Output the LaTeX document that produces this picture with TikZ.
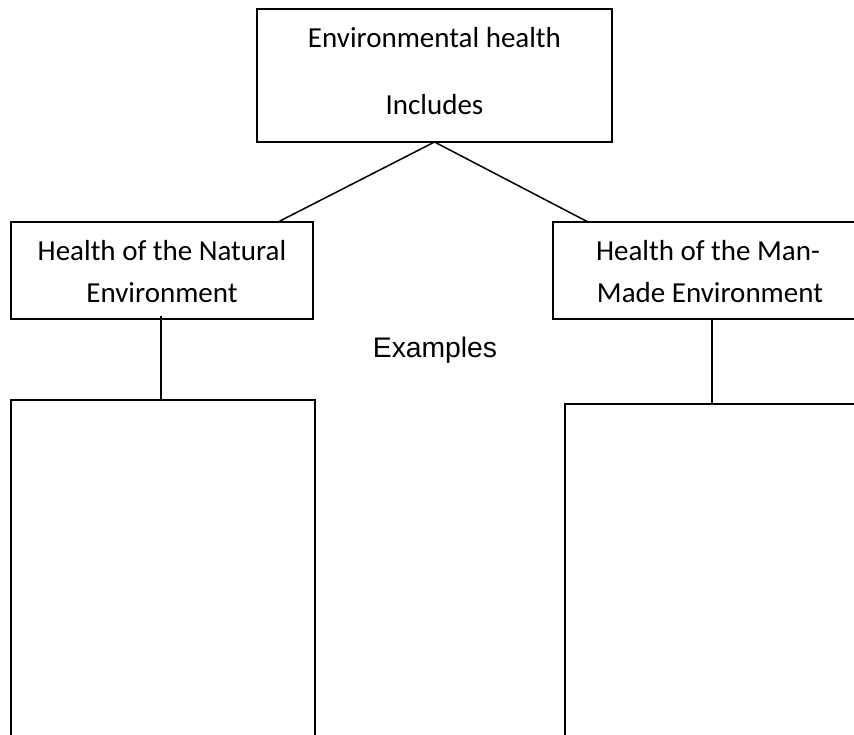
\documentclass[tikz,border=0pt]{standalone}
\usepackage{fontspec}
\setmainfont{Carlito}
\newfontfamily\arialfont{Liberation Sans}
\begin{document}
\begin{tikzpicture}[x=1pt,y=-1pt,
  box/.style={draw=black,line width=1.6pt,fill=none,inner sep=0pt,outer sep=0pt},
  link/.style={draw=black,line width=1.5pt},
  lbl/.style={anchor=base,inner sep=0pt,font=\fontsize{29}{33}\selectfont},
  sanslbl/.style={anchor=base,inner sep=0pt,font=\arialfont\fontsize{28.3}{32}\selectfont}]
\useasboundingbox (0,0) rectangle (854,735);
\clip (0,0) rectangle (854,735);
% top box
\node[box,minimum width=355pt,minimum height=133pt] (top) at (434.5,75.5) {};
\node[lbl] (topa) at (434.5,48) {Environmental health};
\node[lbl] (topb) at (434.5,115) {Includes};
% second level boxes
\node[box,minimum width=302pt,minimum height=97pt] (nat) at (162,270.5) {};
\node[lbl] (nata) at (162,261) {Health of the Natural};
\node[lbl] (natb) at (162,302) {Environment};
\node[box,minimum width=318pt,minimum height=97pt] (man) at (712,270.5) {};
\node[lbl] (mana) at (708,261) {Health of the Man-};
\node[lbl] (manb) at (710,302) {Made Environment};
% lower boxes
\node[box,minimum width=304pt,minimum height=350pt] (natx) at (163,575) {};
\node[box,minimum width=310pt,minimum height=350pt] (manx) at (720,579) {};
% middle label
\node[sanslbl] (ex) at (435,357) {Examples};
% connectors
\coordinate (natjoin) at (278,222);
\coordinate (manjoin) at (588,222);
\draw[link] (top.south) -- (natjoin);
\draw[link] (top.south) -- (manjoin);
\draw[link] (161,316) coordinate (natdrop) -- (natdrop |- natx.north);
\draw[link] (712,319) coordinate (mandrop) -- (mandrop |- manx.north);
\end{tikzpicture}
\end{document}
